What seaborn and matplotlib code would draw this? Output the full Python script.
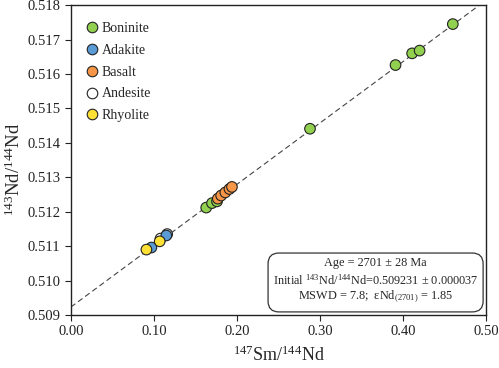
import numpy as np
import pandas as pd
import matplotlib
matplotlib.use('Agg')
import matplotlib.pyplot as plt
from matplotlib.patches import FancyBboxPatch
import seaborn as sns

# Sm-Nd isochron data
boninite_x = [0.460, 0.411, 0.420, 0.391, 0.288, 0.163, 0.170, 0.176]
boninite_y = [0.51745, 0.51660, 0.51668, 0.51626, 0.51441, 0.51212, 0.51225, 0.51230]
adakite_x = [0.097, 0.115]
adakite_y = [0.51096, 0.51131]
basalt_x = [0.177, 0.181, 0.186, 0.191, 0.194]
basalt_y = [0.51238, 0.51247, 0.51256, 0.51266, 0.51272]
andesite_x = [0.108, 0.116]
andesite_y = [0.51122, 0.51135]
rhyolite_x = [0.091, 0.107]
rhyolite_y = [0.51090, 0.51114]

groups = ['Boninite', 'Adakite', 'Basalt', 'Andesite', 'Rhyolite']
colors = ['#92d050', '#5b9bd5', '#f79646', '#ffffff', '#ffe135']

# isochron parameters
age_ma = 2701
intercept = 0.509231
lam = 6.54e-12
line_x = [0.0, 0.5]

info_lines = ['Age = 2701 ± 28 Ma',
              'Initial $^{143}$Nd/$^{144}$Nd=0.509231 ± 0.000037',
              'MSWD = 7.8;  εNd$_{(2701)}$ = 1.85']

sns.set_style('ticks')
plt.rcParams['font.family'] = ['Liberation Serif', 'DejaVu Serif']
plt.rcParams['mathtext.fontset'] = 'custom'
plt.rcParams['mathtext.rm'] = 'Liberation Serif'
plt.rcParams['mathtext.it'] = 'Liberation Serif:italic'

# andesite first so the others sit on top
rows = []
for name, xs, ys in [('Andesite', andesite_x, andesite_y), ('Boninite', boninite_x, boninite_y),
                     ('Basalt', basalt_x, basalt_y), ('Adakite', adakite_x, adakite_y),
                     ('Rhyolite', rhyolite_x, rhyolite_y)]:
    for a, b in zip(xs, ys):
        rows.append({'Sm': a, 'Nd': b, 'Rock': name})
df = pd.DataFrame(rows)

fig, ax = plt.subplots(figsize=(4.99, 3.68), dpi=100)
fig.subplots_adjust(left=0.142, right=0.974, top=0.986, bottom=0.144)

slope = np.exp(lam * age_ma * 1e6) - 1
ax.plot(line_x, [intercept + slope * v for v in line_x], color='#444444', lw=0.8,
        linestyle=(0, (5, 3)), zorder=1)

sns.scatterplot(data=df, x='Sm', y='Nd', hue='Rock', hue_order=groups,
                palette=dict(zip(groups, colors)), s=58, edgecolor='#222222',
                linewidth=0.8, ax=ax, zorder=3)

ax.set_xlim(0, 0.5)
ax.set_ylim(0.509, 0.518)
ax.set_xticks(np.arange(0, 0.51, 0.1))
ax.set_xticklabels([f'{v:.2f}' for v in np.arange(0, 0.51, 0.1)])
ax.set_yticks(np.arange(0.509, 0.5181, 0.001))
ax.set_yticklabels([f'{v:.3f}' for v in np.arange(0.509, 0.5181, 0.001)])
ax.tick_params(direction='out', length=4, width=0.8, labelsize=10.5, colors='#222222')
for sp in ax.spines.values():
    sp.set_visible(True)
    sp.set_color('#222222')
    sp.set_linewidth(1.0)

ax.set_xlabel(r'$^{147}$Sm/$^{144}$Nd', fontsize=13, labelpad=5)
ax.set_ylabel(r'$^{143}$Nd/$^{144}$Nd', fontsize=13.5, labelpad=5)
ax.yaxis.set_label_coords(-0.112, 0.47)

leg = ax.legend(loc='upper left', bbox_to_anchor=(0, 0.99), frameon=False, fontsize=10,
                labelspacing=0.63, handlelength=1.0, handletextpad=0.2, borderaxespad=0.6)
for h in leg.legend_handles:
    h.set_markeredgecolor('#222222')

# results box
box = FancyBboxPatch((0.475, 0.01), 0.518, 0.19, transform=ax.transAxes,
                     boxstyle='round,pad=0,rounding_size=0.026', mutation_aspect=1.34,
                     fc='white', ec='#333333', lw=0.9, zorder=5)
ax.add_patch(box)
for i, line in enumerate(info_lines):
    ax.text(0.734, 0.168 - i * 0.055, line, transform=ax.transAxes, ha='center',
            va='center', fontsize=8.8, zorder=6)

fig.savefig('out.png', dpi=100)
